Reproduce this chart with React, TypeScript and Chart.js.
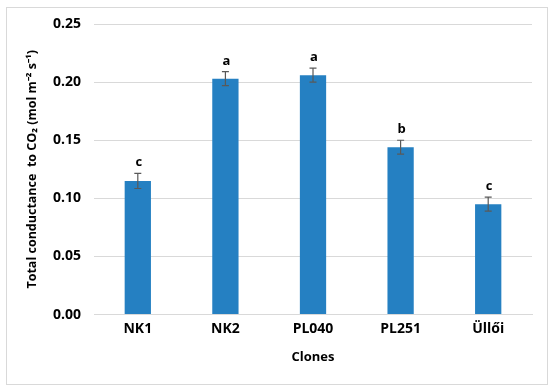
import React, { useEffect, useRef } from "react";
import { Chart, registerables } from "chart.js";

Chart.register(...registerables);

const categories = ["NK1", "NK2", "PL040", "PL251", "Üllői"];
const values = [0.115, 0.203, 0.206, 0.144, 0.095];
const errors = [0.0065, 0.006, 0.006, 0.006, 0.006];
const letters = ["c", "a", "a", "b", "c"];
const yTicks = [0, 0.05, 0.1, 0.15, 0.2, 0.25];

const FONT = "'Open Sans', sans-serif";

const overlayPlugin = {
  id: "overlay",
  beforeDraw(chart: any) {
    const ctx = chart.ctx;
    ctx.save();
    ctx.fillStyle = "#ffffff";
    ctx.fillRect(0, 0, chart.width, chart.height);
    ctx.strokeStyle = "#d9d9d9";
    ctx.lineWidth = 1;
    ctx.strokeRect(6.5, 7.5, 541, 377);
    ctx.restore();
  },
  afterDatasetsDraw(chart: any) {
    const ctx = chart.ctx;
    const y = chart.scales.y;
    const meta = chart.getDatasetMeta(0);
    ctx.save();
    meta.data.forEach((bar: any, i: number) => {
      const x = bar.x;
      const top = y.getPixelForValue(values[i] + errors[i]);
      const bot = y.getPixelForValue(values[i] - errors[i]);
      ctx.strokeStyle = "#595959";
      ctx.lineWidth = 1.2;
      ctx.beginPath();
      ctx.moveTo(x, top);
      ctx.lineTo(x, bot);
      ctx.moveTo(x - 3.5, top);
      ctx.lineTo(x + 3.5, top);
      ctx.moveTo(x - 3.5, bot);
      ctx.lineTo(x + 3.5, bot);
      ctx.stroke();
      ctx.fillStyle = "#000000";
      ctx.font = `bold 13px ${FONT}`;
      ctx.textAlign = "center";
      ctx.textBaseline = "alphabetic";
      ctx.fillText(letters[i], x + 1, top - 7);
    });
    ctx.restore();
  },
};

export default function App() {
  const ref = useRef<HTMLCanvasElement | null>(null);
  useEffect(() => {
    if (!ref.current) return;
    const chart = new Chart(ref.current, {
      type: "bar",
      data: {
        labels: categories,
        datasets: [
          {
            data: values,
            backgroundColor: "#2580c2",
            categoryPercentage: 1,
            barPercentage: 0.3,
          },
        ],
      },
      options: {
        animation: false,
        responsive: false,
        maintainAspectRatio: false,
        layout: { padding: { left: 25, right: 18, top: 24, bottom: 27 } },
        plugins: {
          legend: { display: false },
          tooltip: { enabled: false },
        },
        scales: {
          x: {
            grid: { display: false, drawTicks: false },
            border: { color: "#d9d9d9", width: 1 },
            ticks: {
              color: "#000",
              font: { family: FONT, size: 14, weight: "bold" },
              padding: 6,
            },
            title: {
              display: true,
              text: "Clones",
              color: "#000",
              font: { family: FONT, size: 13, weight: "bold" },
              padding: { top: 6, bottom: 0 },
            },
          },
          y: {
            min: 0,
            max: 0.25,
            afterBuildTicks(axis: any) {
              axis.ticks = yTicks.map((v) => ({ value: v }));
            },
            grid: { color: "#d9d9d9", drawTicks: false, lineWidth: 1 },
            border: { display: false },
            ticks: {
              color: "#000",
              font: { family: FONT, size: 14, weight: "bold" },
              padding: 13,
              callback: (v: any) => Number(v).toFixed(2),
            },
            title: {
              display: true,
              text: "Total conductance  to CO₂ (mol m⁻² s⁻¹)",
              color: "#000",
              font: { family: FONT, size: 12.5, weight: "bold" },
              padding: { top: 0, bottom: 0 },
            },
          },
        },
      },
      plugins: [overlayPlugin],
    });
    return () => chart.destroy();
  }, []);
  return (
    <div style={{ position: "absolute", left: 0, top: 0, width: 550, height: 392 }}>
      <canvas ref={ref} width={550} height={392} style={{ width: 550, height: 392 }} />
    </div>
  );
}
